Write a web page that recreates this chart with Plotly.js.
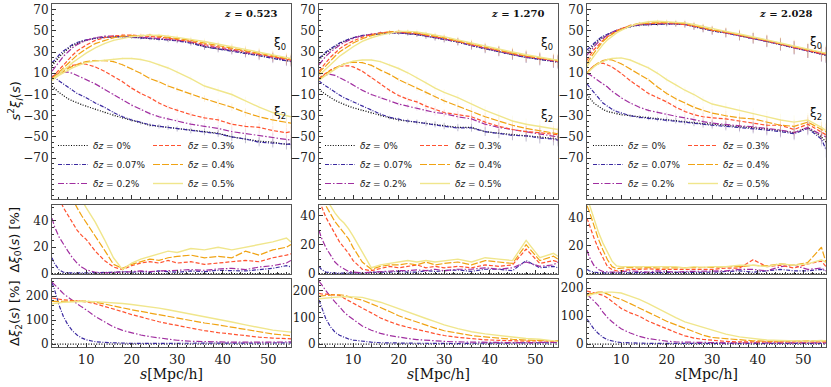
<!DOCTYPE html>
<html>
<head>
<meta charset="utf-8">
<script src="https://cdn.plot.ly/plotly-3.0.1.min.js"></script>
<style>
  html, body { margin: 0; padding: 0; background: #fff; }
  #tester { width: 831px; height: 387px; }
</style>
</head>
<body>
<div id="tester"></div>
<script>
// separation s [Mpc/h], shared by every curve
let S = [2.5, 3, 4, 5, 6, 7, 8, 9, 10, 12, 14, 16, 18, 20, 22, 24, 26, 28, 30, 33, 36, 39, 42, 45, 48, 51, 54, 55];

let DZ_LABELS = ['0%', '0.07%', '0.2%', '0.3%', '0.4%', '0.5%'];
let REDSHIFTS = ['0.523', '1.270', '2.028'];
let X_TICKS = [10, 20, 30, 40, 50];
let TOP_TICKS = [-70, -50, -30, -10, 10, 30, 50, 70];
let MID_TICKS = [0, 20, 40];
let BOT_TICKS = [0, 100, 200];

let ZERO = [0,0,0,0,0,0,0,0,0,0,0,0,0,0,0,0,0,0,0,0,0,0,0,0,0,0,0,0];

// ---- z = 0.523 ----
let xi0_a_000 = [17,20,25,29,33,36,38,40,41,43,44,44.5,44.5,44,43.5,43,42.5,41.5,41,39,35,33,31.5,29,27,24.5,22,21.5];
let xi0_a_007 = [20,22,27,31,34,37,39,40.5,41.5,43,44,44.5,44.5,44,43.5,43,42,41.5,40.5,38.5,35,33,31,28.5,26.5,24,21.5,21];
let xi0_a_020 = [12,15,21,26,30,34,37,39,41,43.5,45,45,45,44.5,44,43.5,43,42,41,39.5,36,34,32,29.5,27.5,25,22.5,22];
let xi0_a_030 = [6,8,13,18,23,27,31,34,36.5,41,43.5,45,46,46,45.5,45,44,43,42,40,37,35,33,30.5,28,25.5,23,22.5];
let xi0_a_040 = [5,7,11,15,19,23,27,30,33,38,41,43.5,45,45.5,46,46,45,44,43,41,38.5,36,34,31.5,29,26.5,24,23.5];
let xi0_a_050 = [4,6,9,13,16,20,23,26,29,34,38,41,43,44.5,45.5,46,46,45,44,42,40,37.5,35,32.5,30,27.5,25,24];

let xi2_a_000 = [-2,-4,-8,-11,-14,-16,-18,-19.5,-21,-24,-27,-29.5,-32,-34.5,-37,-39,-40,-41,-42.5,-44,-45,-46.5,-50,-52,-54,-55,-57,-56];
let xi2_a_007 = [7,6,3,0,-3,-6,-9,-11,-13,-18,-22,-27,-31,-34,-36.5,-38.5,-40,-41,-42.5,-44,-45.5,-47,-50,-52,-55,-56,-57,-57];
let xi2_a_020 = [7,8,10,11,11,10,8,6,4,0,-5,-10,-15,-20,-24,-28,-31,-33,-35,-38,-40,-42,-45,-47,-49,-51,-53,-53];
let xi2_a_030 = [5,7,10,13,15.5,17.5,18.5,19,18.5,16,12,7,2,-4,-9,-13,-18,-22,-25,-29,-32,-34,-38,-40,-41,-44,-46,-45];
let xi2_a_040 = [4,6,9,12,14.5,16.5,18.5,20,21,22,22,21,18,14,10,5,2,-2,-5,-10,-14,-18,-22,-27,-31,-34,-36,-37];
let xi2_a_050 = [3,5,8,10.5,13,15,17,18.5,20,21.5,22.5,23.5,24,24,23,21,18,15,11,5,-2,-6,-10,-16,-22,-27,-30,-31];

let d0_a_007 = [12,8,3,1,0.5,0.3,0.5,0.5,0.5,1,1,1,1.5,1,1.5,1,2,1.5,1,2,1.5,2.5,2,2,3,4,6,5];
let d0_a_020 = [42,36,28,22,17,12,8,5,3,1,0.5,1,1,1.5,2,1.5,2,2,2.5,3,2.5,3.5,4,3,5,6,8,10];
let d0_a_030 = [70,65,58,50,44,38,33,29,26,17,10,5,3,6,8,9,8,10,8,9,7,8,9,10,9,12,14,15];
let d0_a_040 = [90,85,78,70,63,56,50,44,39,29,18,7,4,7,9,11,10,12,13,14,12,13,12,17,14,18,20,22];
let d0_a_050 = [110,105,98,90,82,74,65,56,50,39,26,12,3,8,11,13,15,17,16,19,18,20,18,20,22,24,27,24];

let d2_a_007 = [255,230,165,115,80,55,38,26,18,10,7,5,4,3,3,3,2,3,2,3,2,3,3,4,3,4,5,5];
let d2_a_020 = [258,250,230,210,195,180,168,155,143,115,92,72,57,47,38,31,25,20,16,12,10,9,8,8,7,8,9,9];
let d2_a_030 = [192,190,186,184,183,182,180,178,176,168,158,147,135,123,112,101,93,85,77,66,56,48,41,35,29,25,22,22];
let d2_a_040 = [178,178,179,180,181,181,181,180,179,175,168,160,151,143,136,129,121,115,108,98,88,80,70,60,50,42,37,35];
let d2_a_050 = [168,170,172,174,175,177,178,178,178,177,175,172,169,165,161,156,150,143,136,126,115,104,92,80,68,58,52,50];

let err_a = [0.3,0.3,0.4,0.4,0.5,0.5,0.6,0.7,0.8,0.9,1,1.2,1.3,1.5,1.6,1.8,2,2.2,2.4,2.7,3,3.3,3.6,3.9,4.2,4.5,4.8,5];

// ---- z = 1.270 ----
let xi0_b_000 = [22,25,29,32,35,38,40,42,43.5,45.5,46.5,47.5,48,48,47.5,46.5,45,43.5,42,39.5,36,33,30.5,27.5,25,23,21,20.5];
let xi0_b_007 = [24,26,30,33,36,38.5,40.5,42,43.5,45.5,46.5,47.5,48,48,47.5,46.5,45,43.5,42,39.5,36,33,30.5,27.5,25,23,21,20.5];
let xi0_b_020 = [18,21,26,30,33.5,36.5,39,41,43,45.5,47,48,48.5,48.5,48,47,45.5,44,42.5,40,36.5,33.5,31,28,25.5,23.5,21.5,21];
let xi0_b_030 = [12,15,20,25,29,33,36,38.5,40.5,44,46.5,48,49,49,48.5,47.5,46,44.5,43,40,37,34,31,28.5,26,24,22,21.5];
let xi0_b_040 = [10,13,17,22,26,30,33,36,38.5,42.5,45.5,47.5,49,49.5,49,48,46.5,45,43.5,40.5,37.5,34.5,31.5,29,26.5,24.5,22.5,22];
let xi0_b_050 = [8,10,14,18,22,26,29,32,35,40,43.5,46,48,49.5,49.5,49,47.5,46,44.5,41.5,38.5,35.5,32.5,30,27.5,25,23,22.5];

let xi2_b_000 = [-5,-7,-10,-13,-15.5,-17.5,-19.5,-21,-22.5,-25,-27.5,-30,-32,-34,-35,-36,-37,-38,-39.5,-41,-41,-45,-46.5,-48,-49,-50,-52,-52];
let xi2_b_007 = [3,1,-2,-5,-8,-10.5,-13,-15,-17,-21,-25,-28.5,-31.5,-33.5,-35,-36,-37.5,-38.5,-40,-41.5,-41.5,-45,-47,-48.5,-49,-51,-52,-53];
let xi2_b_020 = [5,6.5,8.5,9,8,6,4,1.5,-1,-6,-10,-13,-16,-19,-21,-23,-25,-27,-28,-31,-33,-38,-41,-43,-45,-47,-49,-50];
let xi2_b_030 = [5,7,10,13,15,16.5,17,17,16,12,6,0,-6,-11,-14.5,-17,-21,-24,-27,-29,-31,-36,-40,-43,-45,-46,-48,-48];
let xi2_b_040 = [4,6,9.5,12.5,15,17,19,20,20.5,20,17.5,13,9,4,0,-4,-8,-12,-16,-21,-26,-31,-35,-39,-42,-44,-46,-47];
let xi2_b_050 = [3,5,8,11,14,16.5,18.5,20,21.5,22.5,22.5,21,18,14.5,10.5,6,1,-4,-8,-13,-19,-25,-30,-35,-38,-40,-42,-43];

let d0_b_007 = [5,3,1,0.5,0.3,0.3,0.5,0.5,0.5,0.5,1,1,1,1.5,1,1,2,1.5,2,2.5,1.5,3,3,2,9,4,5,4];
let d0_b_020 = [30,25,18,13,8,5,3,1.5,1,0.5,1,1.5,1.5,2,2,2.5,2,3,2,3,3,4,3,4,8,5,6,8];
let d0_b_030 = [50,47,39,33,27,22,18,14,9,3,2,3.5,5,4,5,6,4,5,4,5,4,6,5,6,17,7,9,8];
let d0_b_040 = [58,55,47,41,36,32,28,24,18,8,3,5,6,6,7,6,8,6,7,8,6,9,8,7,20,9,12,10];
let d0_b_050 = [68,64,55,47,42,38,35,31,26,15,4,6,7,8,9,8,9,8,9,10,8,11,10,9,23,11,14,12];

let d2_b_007 = [165,140,95,65,45,33,25,19,15,10,7,5,4,4,3,3,3,2,3,2,3,3,3,4,3,4,5,5];
let d2_b_020 = [235,225,200,178,158,140,120,105,92,68,52,40,32,26,21,17,14,12,10,8,7,6,6,6,5,6,7,6];
let d2_b_030 = [190,188,187,186,185,183,172,162,152,135,117,98,84,72,63,54,47,39,32,25,20,16,14,12,11,12,10,10];
let d2_b_040 = [180,181,183,184,185,185,183,178,172,165,152,137,122,106,94,82,72,60,50,40,32,27,22,18,15,14,12,12];
let d2_b_050 = [170,171,173,175,176,177,178,178,177,175,167,157,145,132,120,107,96,84,72,58,46,38,32,27,21,18,12,10];

let err_b = [0.4,0.4,0.5,0.5,0.6,0.7,0.8,0.9,1,1.1,1.3,1.5,1.7,1.9,2.1,2.3,2.6,2.8,3,3.4,3.8,4.1,4.5,4.9,5.3,5.6,6,6.2];

// ---- z = 2.028 ----
let xi0_c_000 = [29,32,37,41,44,46.5,48.5,50,51.5,54,55.5,56,56.5,56.5,56.5,56,54,52,50,48,45.5,43,40,37,34,31,28,27];
let xi0_c_007 = [32,34,38.5,42,45,47,49,50.5,51.5,54,55.5,56,56.5,56.5,56.5,56,54,52,50,48,45.5,43,40,37,34,31,28,27];
let xi0_c_020 = [27,30,35,39.5,43,46,48.5,50.5,52,54.5,56,56.5,57,57,56.5,56,54.5,52.5,50.5,48,45.5,43,40.5,37.5,34,31,28,27.5];
let xi0_c_030 = [22,26,32,37,41,44.5,47.5,50,52,55,56.5,57,57.5,57.5,57,56,54.5,52.5,50.5,48.5,46,43,40.5,37.5,34.5,31,28.5,28];
let xi0_c_040 = [19,23,29,35,40,44,47,49.5,51.5,55,57,57.5,58,58,57.5,57,55,53,51,49,46.5,44,41,38,35,32,29.5,29];
let xi0_c_050 = [16,20,26,32,37,41.5,45,48,50.5,54.5,57,58.5,59,58.5,58,57.5,56,54,52,49.5,47,44.5,41.5,38.5,35.5,32.5,30,29];

let xi2_c_000 = [-10,-13,-18,-21,-24,-26,-27,-28,-29,-30,-31,-32,-33,-33.5,-34.5,-35.5,-36.5,-37.5,-38,-39,-40,-41,-42.5,-44,-46,-41,-50,-55];
let xi2_c_007 = [0,-3,-8,-13,-18,-21,-24,-26,-27.5,-30,-31.5,-32.5,-33.5,-34,-35,-36,-37,-38,-39,-40,-41,-42,-43.5,-45,-47,-42,-52,-62];
let xi2_c_020 = [10,9,6,3,0,-3,-7,-10,-13,-18,-22,-25,-27,-29,-30.5,-32,-34,-35.5,-37,-38.5,-39.5,-40.5,-42,-43.5,-46,-41,-48,-50];
let xi2_c_030 = [10,13,17,19,19.5,18,16,13,10,3,-3,-9,-13,-17,-22,-26,-29,-31,-32,-33,-35,-37,-39,-39,-43,-38,-46,-48];
let xi2_c_040 = [10,13,17,20,22,23,22.5,21,19,14,9,4,-3,-9,-14,-18,-22,-25,-27.5,-30,-32,-33,-36,-39,-40,-36,-43,-45];
let xi2_c_050 = [9,12,16,19,21,23,24,24.5,24.5,22.5,19,15,10,4,-1,-6,-10,-15,-19,-22,-25,-28,-31,-34,-36,-34,-41,-44];

let d0_c_007 = [3,2,1,0.5,0.5,0.5,0.5,0.5,0.5,0.5,0.5,0.5,0.5,1,0.5,1,0.5,1,1,1.5,2,1,2,3,2,2,3,2];
let d0_c_020 = [17,12,6,3,1.5,1,1,1,1.5,2,1.5,1,2,1.5,1,1.5,1.5,2,2,2,3,3,2,5,6,3,4,2];
let d0_c_030 = [40,35,26,18,11,5,3,2,2,3,3,3.5,3,3,3.5,3,3,3.5,3,4,4,10,5,6,4,7,9,5];
let d0_c_040 = [49,45,35,25,17,10,5,3.5,4,4.5,4,4.5,4,4,4.5,4,4.5,4,4.5,5,5,6,5.5,7,6,8,19,8];
let d0_c_050 = [55,50,40,30,22,15,9,5.5,5,5,5,4.5,5,4.5,5,4,5,4.5,5,5,6,6,5,7,6,7,10,8];

let d2_c_007 = [90,78,55,38,25,16,11,8,6,4,4,3,3,3,3,3,3,3,3,3,3,3,3,3,3,3,3,3];
let d2_c_020 = [180,170,155,138,115,95,80,66,55,40,28,20,15,11,8,7,6,5,5,5,5,4,5,5,5,5,5,5];
let d2_c_030 = [190,188,182,178,175,165,152,140,128,112,100,82,68,54,42,30,22,17,14,10,8,8,8,7,8,8,8,8];
let d2_c_040 = [178,180,184,186,186,180,172,165,160,145,130,115,98,82,70,58,45,32,24,20,14,12,11,11,12,10,12,12];
let d2_c_050 = [172,175,180,183,185,186,186,185,183,172,160,145,128,110,95,80,70,60,52,36,26,20,15,13,12,11,13,12];

let err_c = [0.5,0.5,0.6,0.7,0.8,0.9,1,1.1,1.2,1.4,1.6,1.9,2.1,2.4,2.6,2.9,3.2,3.5,3.8,4.2,4.6,5,5.4,5.8,6.2,6.6,7,7.4];

let panels = [
	{ xi0: [xi0_a_000, xi0_a_007, xi0_a_020, xi0_a_030, xi0_a_040, xi0_a_050],
	  xi2: [xi2_a_000, xi2_a_007, xi2_a_020, xi2_a_030, xi2_a_040, xi2_a_050],
	  d0:  [ZERO, d0_a_007, d0_a_020, d0_a_030, d0_a_040, d0_a_050],
	  d2:  [ZERO, d2_a_007, d2_a_020, d2_a_030, d2_a_040, d2_a_050],
	  err: err_a },
	{ xi0: [xi0_b_000, xi0_b_007, xi0_b_020, xi0_b_030, xi0_b_040, xi0_b_050],
	  xi2: [xi2_b_000, xi2_b_007, xi2_b_020, xi2_b_030, xi2_b_040, xi2_b_050],
	  d0:  [ZERO, d0_b_007, d0_b_020, d0_b_030, d0_b_040, d0_b_050],
	  d2:  [ZERO, d2_b_007, d2_b_020, d2_b_030, d2_b_040, d2_b_050],
	  err: err_b },
	{ xi0: [xi0_c_000, xi0_c_007, xi0_c_020, xi0_c_030, xi0_c_040, xi0_c_050],
	  xi2: [xi2_c_000, xi2_c_007, xi2_c_020, xi2_c_030, xi2_c_040, xi2_c_050],
	  d0:  [ZERO, d0_c_007, d0_c_020, d0_c_030, d0_c_040, d0_c_050],
	  d2:  [ZERO, d2_c_007, d2_c_020, d2_c_030, d2_c_040, d2_c_050],
	  err: err_c }
];

// styles
let list_line_styles = [
	{ color: '#000000', rgb: '0,0,0',       dash: '1px,1.6px' },
	{ color: '#3b2aa0', rgb: '59,42,160',   dash: '4px,1.5px,1px,1.5px' },
	{ color: '#a02ea0', rgb: '160,46,160',  dash: '6px,2px,1.5px,2px' },
	{ color: '#ff5230', rgb: '255,82,48',   dash: '4px,2px' },
	{ color: '#f0a313', rgb: '240,163,19',  dash: '7px,2px' },
	{ color: '#f0e68c', rgb: '240,230,140', dash: 'solid' }
];

let W = 831, H = 387;
let col_px = [[52, 291], [319, 558], [587, 826]];
let row_px = [[4, 199], [205, 274], [279, 347]];
let mid_ranges = [[-0.3, 52], [-0.3, 47.5], [-0.3, 49.5]];
let bot_ranges = [[-12, 271], [-11, 244], [-10, 233]];
let label_pos = [[52.6, 38, -27], [52.6, 38, -30], [52.9, 38.5, -28]];

let tick_font = { family: 'DejaVu Serif', size: 12, color: '#222' };
let frame_color = '#555';

function ax(i) { return i === 1 ? '' : String(i); }

let exampleData = [];
let layout = {
	width: W, height: H,
	margin: { l: 0, r: 0, t: 0, b: 0, pad: 0 },
	paper_bgcolor: '#fff', plot_bgcolor: '#fff',
	showlegend: true,
	annotations: []
};

for (let p = 0; p < 3; p++)
{
	let P = panels[p];
	let xd = [col_px[p][0] / W, col_px[p][1] / W];
	for (let r = 0; r < 3; r++)
	{
		let idx = r * 3 + p + 1;
		let yd = [1 - row_px[r][1] / H, 1 - row_px[r][0] / H];
		layout['xaxis' + ax(idx)] = {
			domain: xd, range: [2.5, 55], anchor: 'y' + ax(idx),
			tickmode: 'array', tickvals: X_TICKS,
			ticks: 'inside', ticklen: 4, tickcolor: '#333', tickwidth: 1,
			minor: { tickmode: 'linear', tick0: 0, dtick: 2, ticks: 'inside', ticklen: 2, tickcolor: '#333' },
			showline: true, mirror: true, linecolor: frame_color, linewidth: 1,
			showgrid: false, zeroline: false,
			showticklabels: r === 2, tickfont: { family: 'DejaVu Serif', size: 13, color: '#222' }
		};
		let yax = {
			domain: yd, anchor: 'x' + ax(idx),
			tickmode: 'array',
			ticks: 'inside', ticklen: 4, tickcolor: '#333', tickwidth: 1,
			showline: true, mirror: true, linecolor: frame_color, linewidth: 1,
			showgrid: false, zeroline: false, tickfont: tick_font
		};
		if (r === 0) {
			yax.range = [-108.5, 75.3]; yax.tickvals = TOP_TICKS;
			yax.minor = { tickmode: 'linear', tick0: 0, dtick: 5, ticks: 'inside', ticklen: 2, tickcolor: '#333' };
		} else if (r === 1) {
			yax.range = mid_ranges[p]; yax.tickvals = MID_TICKS;
			yax.minor = { tickmode: 'linear', tick0: 0, dtick: 5, ticks: 'inside', ticklen: 2, tickcolor: '#333' };
		} else {
			yax.range = bot_ranges[p]; yax.tickvals = BOT_TICKS;
			yax.minor = { tickmode: 'linear', tick0: 0, dtick: 20, ticks: 'inside', ticklen: 2, tickcolor: '#333' };
		}
		layout['yaxis' + ax(idx)] = yax;
	}

	// two legend columns inside the top panel
	let legA = p === 0 ? 'legend' : 'legend' + (2 * p + 1);
	let legB = 'legend' + (2 * p + 2);
	let legend_common = {
		xanchor: 'left', yanchor: 'bottom', y: 1 - 198 / H,
		bgcolor: 'rgba(0,0,0,0)', borderwidth: 0, traceorder: 'normal',
		font: { family: 'DejaVu Sans', size: 9, color: '#222' }, itemwidth: 30
	};
	layout[legA] = Object.assign({}, legend_common, { x: (col_px[p][0] + 1) / W });
	layout[legB] = Object.assign({}, legend_common, { x: (col_px[p][0] + 96) / W });

	let top = p + 1, mid = p + 4, bot = p + 7;
	for (let k = 0; k < 6; k++)
	{
		let st = list_line_styles[k];
		let ln = { color: st.color, width: k === 5 ? 1.4 : 1.2, dash: st.dash };
		let eb = { type: 'data', array: P.err, visible: true, thickness: 0.7, width: 0, color: 'rgba(' + st.rgb + ',0.22)' };
		exampleData.push({ type: 'scatter', mode: 'lines', x: S, y: P.xi0[k], xaxis: 'x' + ax(top), yaxis: 'y' + ax(top),
			line: ln, error_y: eb, showlegend: false, hoverinfo: 'skip' });
		exampleData.push({ type: 'scatter', mode: 'lines', x: S, y: P.xi2[k], xaxis: 'x' + ax(top), yaxis: 'y' + ax(top),
			line: ln, error_y: eb, showlegend: false, hoverinfo: 'skip' });
		exampleData.push({ type: 'scatter', mode: 'lines', x: S, y: P.d0[k], xaxis: 'x' + ax(mid), yaxis: 'y' + ax(mid),
			line: ln, name: '<i>δz</i> = ' + DZ_LABELS[k], legend: k < 3 ? legA : legB, showlegend: true, hoverinfo: 'skip' });
		exampleData.push({ type: 'scatter', mode: 'lines', x: S, y: P.d2[k], xaxis: 'x' + ax(bot), yaxis: 'y' + ax(bot),
			line: ln, showlegend: false, hoverinfo: 'skip' });
	}

	// redshift tag and multipole labels
	layout.annotations.push({
		xref: 'paper', yref: 'paper', x: (col_px[p][1] - 12) / W, y: 1 - 13 / H,
		xanchor: 'right', yanchor: 'middle', showarrow: false,
		text: '<b><i>z</i> = ' + REDSHIFTS[p] + '</b>',
		font: { family: 'DejaVu Serif', size: 10, color: '#111' }
	});
	layout.annotations.push({
		xref: 'x' + ax(top), yref: 'y' + ax(top), x: label_pos[p][0], y: label_pos[p][1],
		showarrow: false, text: 'ξ<sub>0</sub>', font: { family: 'DejaVu Sans', size: 12, color: '#111' }
	});
	layout.annotations.push({
		xref: 'x' + ax(top), yref: 'y' + ax(top), x: label_pos[p][0], y: label_pos[p][2],
		showarrow: false, text: 'ξ<sub>2</sub>', font: { family: 'DejaVu Sans', size: 12, color: '#111' }
	});
	layout.annotations.push({
		xref: 'paper', yref: 'paper', x: (col_px[p][0] + col_px[p][1]) / 2 / W, y: 1 - 374 / H,
		xanchor: 'center', yanchor: 'middle', showarrow: false,
		text: '<i>s</i>[Mpc/h]', font: { family: 'DejaVu Serif', size: 14, color: '#111' }
	});
}

let ytitles = [
	['<i>s</i><sup>2</sup><i>ξ<sub>l</sub></i>(<i>s</i>)', 0],
	['Δ<i>ξ</i><sub>0</sub>(<i>s</i>) [%]', 1],
	['Δ<i>ξ</i><sub>2</sub>(<i>s</i>) [%]', 2]
];
for (let t of ytitles)
{
	let r = t[1];
	layout.annotations.push({
		xref: 'paper', yref: 'paper', x: 15 / W, y: 1 - (row_px[r][0] + row_px[r][1]) / 2 / H,
		xanchor: 'center', yanchor: 'middle', textangle: -90, showarrow: false,
		text: t[0], font: { family: 'DejaVu Sans', size: 13, color: '#111' }
	});
}

target_div = document.getElementById('tester');
Plotly.newPlot(target_div, exampleData, layout, { staticPlot: true, displayModeBar: false });
</script>
</body>
</html>
